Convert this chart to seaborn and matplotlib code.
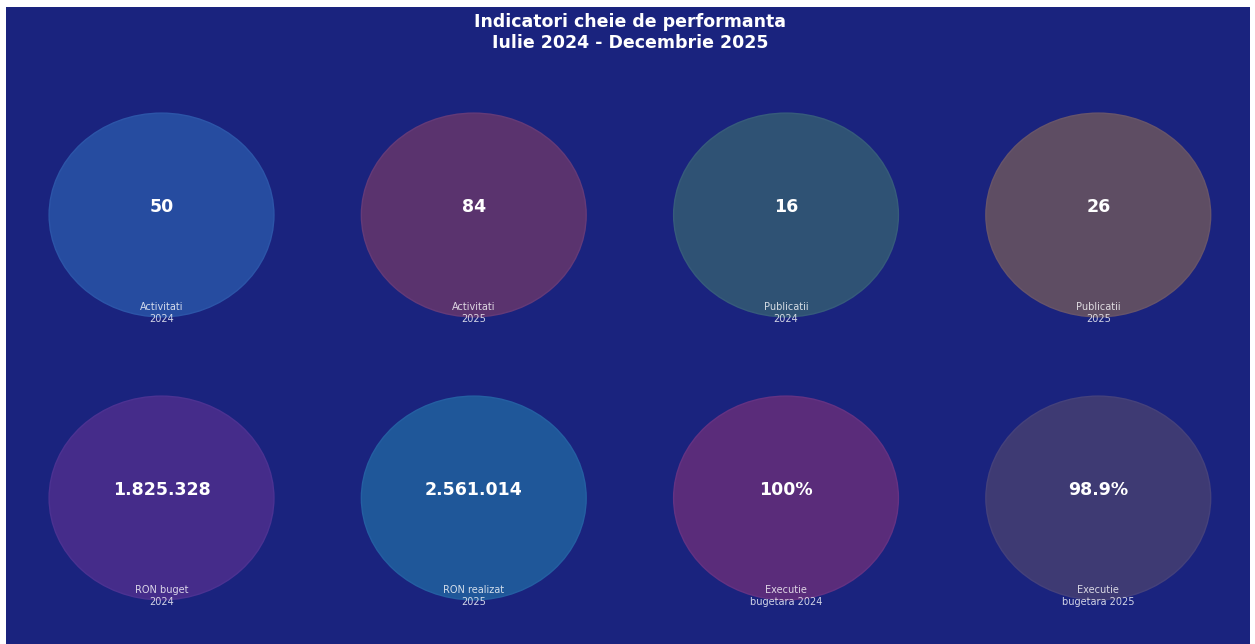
import matplotlib
matplotlib.use("Agg")
import matplotlib.pyplot as plt
from matplotlib.patches import Circle
import seaborn as sns

# ---- data ----
title_line1 = "Indicatori cheie de performanta"
title_line2 = "Iulie 2024 - Decembrie 2025"
values = [50, 84, 16, 26, 1825328, 2561014, 100, 98.9]
value_formats = ["int", "int", "int", "int", "thousands", "thousands", "pct0", "pct1"]
labels = ["Activitati\n2024", "Activitati\n2025", "Publicatii\n2024", "Publicatii\n2025",
          "RON buget\n2024", "RON realizat\n2025", "Executie\nbugetara 2024", "Executie\nbugetara 2025"]
circle_colors = ["#264ca0", "#5a336e", "#2f5274", "#5e4d63",
                 "#452c8a", "#1f5799", "#5a2c7a", "#3e3a73"]
edge_colors = ["#2c55a8", "#643a78", "#365b7b", "#67546a",
               "#4c3292", "#245fa2", "#643283", "#45417b"]

BG = "#1a237e"


def fmt(v, kind):
    if kind == "int":
        return f"{int(v)}"
    if kind == "thousands":
        return f"{int(v):,}".replace(",", ".")
    if kind == "pct0":
        return f"{v:.0f}%"
    return f"{v:.1f}%"


sns.set_theme(style="white")
plt.rcParams["font.family"] = ["DejaVu Sans"]

W, H = 1255, 644
fig = plt.figure(figsize=(W / 100, H / 100), dpi=100, facecolor="white")

# dark background panel
bg_ax = fig.add_axes([6 / W, 0, 1244 / W, 637 / H])
bg_ax.set_facecolor(BG)
bg_ax.set_xticks([])
bg_ax.set_yticks([])
sns.despine(ax=bg_ax, left=True, bottom=True)

# main axes holding the KPI circles
ax = fig.add_axes([5.4 / W, 4.5 / H, 1249 / W, 566 / H])
ax.set_facecolor("none")
ax.set_xlim(0, 4)
ax.set_ylim(0, 2)
ax.axis("off")

for i, (v, k, lab, fc, ec) in enumerate(zip(values, value_formats, labels, circle_colors, edge_colors)):
    col = i % 4
    row = i // 4
    cx = col + 0.5
    cy = 1.5 - row
    ax.add_patch(Circle((cx, cy), 0.36, facecolor=fc, edgecolor=ec, linewidth=1.0))
    ax.text(cx, cy + 0.03, fmt(v, k), ha="center", va="center",
            fontsize=12.5, fontweight="bold", color="white")
    ax.text(cx, cy - 0.346, lab, ha="center", va="center",
            fontsize=7, color="white", alpha=0.8, linespacing=1.2)

fig.text(630 / W, 1 - 32.5 / H, title_line1 + "\n" + title_line2,
         ha="center", va="center", fontsize=12.5, fontweight="bold", color="white",
         linespacing=1.2)

fig.savefig("out.png", dpi=100, facecolor="white")
